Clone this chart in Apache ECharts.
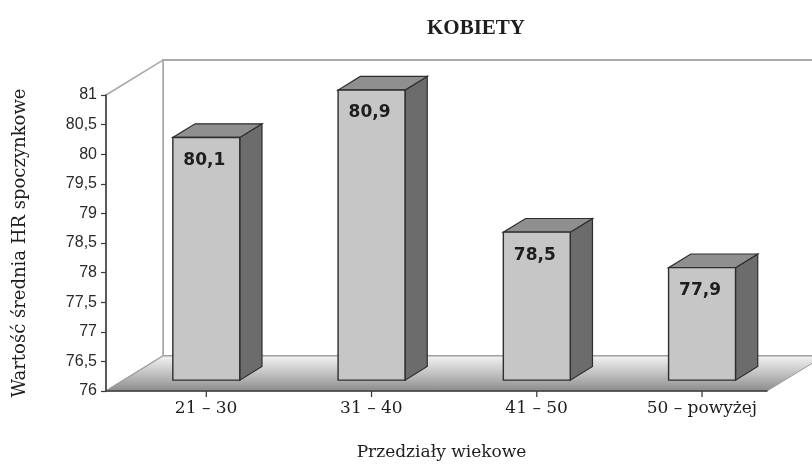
<!DOCTYPE html>
<html>
<head>
<meta charset="utf-8">
<script src="https://cdn.jsdelivr.net/npm/echarts@6/dist/echarts.min.js"></script>
<style>
  html, body { margin: 0; padding: 0; background: #ffffff; }
  #chart { width: 812px; height: 466px; }
</style>
</head>
<body>
<div id="chart"></div>
<script>
// Age groups and mean resting heart rate (women)
const categories = ['21 – 30', '31 – 40', '41 – 50', '50 – powyżej'];
const meanHR = [80.1, 80.9, 78.5, 77.9];

// Value axis range
const yMin = 76;
const yMax = 81;
const yStep = 0.5;

const chartTitle = 'KOBIETY';
const xAxisName = 'Przedziały wiekowe';
const yAxisName = 'Wartość średnia HR spoczynkowe';

// Pseudo-3D depth vector of the plot box and the slab the bars occupy
const DEPTH = [57, -35];
const BAR_FRONT = 0.31;
const BAR_BACK = 0.70;
const BAR_WIDTH = 0.405;

const fmt = v => String(v).replace('.', ',');

const chart = echarts.init(document.getElementById('chart'), null, { renderer: 'canvas' });

// Back wall, left wall and floor of the 3D box
function renderBox(params, api) {
  const cs = params.coordSys;
  const x0 = cs.x, y0 = cs.y, x1 = cs.x + cs.width, y1 = cs.y + cs.height;
  const dx = DEPTH[0], dy = DEPTH[1];
  const wallStroke = '#a9a9a9';
  return {
    type: 'group',
    children: [
      {
        type: 'polygon',
        shape: { points: [[x0 + dx, y0 + dy], [x1 + dx, y0 + dy], [x1 + dx, y1 + dy], [x0 + dx, y1 + dy]] },
        style: { fill: '#ffffff', stroke: wallStroke, lineWidth: 2 }
      },
      {
        type: 'polygon',
        shape: { points: [[x0, y0], [x0 + dx, y0 + dy], [x0 + dx, y1 + dy], [x0, y1]] },
        style: { fill: '#ffffff', stroke: wallStroke, lineWidth: 1.5 }
      },
      {
        type: 'polygon',
        shape: { points: [[x0, y1], [x1, y1], [x1 + dx, y1 + dy], [x0 + dx, y1 + dy]] },
        style: {
          fill: new echarts.graphic.LinearGradient(0, 1, 0, 0, [
            { offset: 0, color: '#8a8a8a' },
            { offset: 0.5, color: '#c2c2c2' },
            { offset: 1, color: '#f4f4f4' }
          ]),
          stroke: '#9a9a9a',
          lineWidth: 1
        }
      }
    ]
  };
}

// One box-shaped bar with its value label and the category tick under it
function renderBar(params, api) {
  const idx = api.value(0);
  const val = api.value(1);
  const top = api.coord([idx, val]);
  const base = api.coord([idx, yMin]);
  const band = api.size([1, 0])[0];
  const w = band * BAR_WIDTH;
  const fx = DEPTH[0] * BAR_FRONT, fy = DEPTH[1] * BAR_FRONT;
  const ddx = DEPTH[0] * (BAR_BACK - BAR_FRONT), ddy = DEPTH[1] * (BAR_BACK - BAR_FRONT);
  const cx = top[0] + fx;
  const l = cx - w / 2, r = cx + w / 2;
  const t = top[1] + fy, b = base[1] + fy;
  const edge = '#2e2e2e';
  return {
    type: 'group',
    children: [
      {
        type: 'polygon',
        shape: { points: [[r, t], [r + ddx, t + ddy], [r + ddx, b + ddy], [r, b]] },
        style: { fill: '#6c6c6c', stroke: edge, lineWidth: 1.2 }
      },
      {
        type: 'polygon',
        shape: { points: [[l, t], [r, t], [r + ddx, t + ddy], [l + ddx, t + ddy]] },
        style: { fill: '#8f8f8f', stroke: edge, lineWidth: 1.2 }
      },
      {
        type: 'rect',
        shape: { x: l, y: t, width: w, height: b - t },
        style: { fill: '#c6c6c6', stroke: edge, lineWidth: 1.4 }
      },
      {
        type: 'text',
        x: cx - 2,
        y: t + 23,
        style: {
          text: fmt(val),
          fill: '#1e1e1e',
          font: 'bold 17px "DejaVu Sans"',
          align: 'center',
          verticalAlign: 'middle'
        }
      },
      {
        type: 'line',
        shape: { x1: cx, y1: base[1], x2: cx, y2: base[1] + 6 },
        style: { stroke: '#333333', lineWidth: 1.2 }
      }
    ]
  };
}

const option = {
  backgroundColor: '#ffffff',
  animation: false,
  title: {
    text: chartTitle,
    left: 471,
    top: 13,
    textAlign: 'center',
    textStyle: { fontFamily: 'Liberation Serif', fontWeight: 'bold', fontSize: 21, color: '#1e1e1e' }
  },
  grid: { left: 106, right: 45, top: 95, bottom: 73, containLabel: false },
  xAxis: {
    type: 'category',
    data: categories,
    boundaryGap: true,
    z: 10,
    axisLine: { show: true, lineStyle: { color: '#3a3a3a', width: 1.5 } },
    axisTick: { show: false },
    axisLabel: {
      margin: 9,
      padding: [0, 0, 0, 35],
      fontFamily: 'DejaVu Serif',
      fontSize: 17,
      color: '#1e1e1e'
    },
    splitLine: { show: false },
    name: xAxisName,
    nameLocation: 'middle',
    nameGap: 53,
    nameTextStyle: { fontFamily: 'DejaVu Serif', fontSize: 17, color: '#1e1e1e', padding: [0, 0, 0, 10] }
  },
  yAxis: {
    type: 'value',
    min: yMin,
    max: yMax,
    interval: yStep,
    z: 10,
    axisLine: { show: true, lineStyle: { color: '#3a3a3a', width: 1.5 } },
    axisTick: { show: true, length: 5, lineStyle: { color: '#3a3a3a', width: 1.2 } },
    axisLabel: {
      margin: 9,
      formatter: v => fmt(v),
      fontFamily: 'Liberation Sans',
      fontSize: 16,
      color: '#2a2a2a'
    },
    splitLine: { show: false },
    name: yAxisName,
    nameLocation: 'middle',
    nameGap: 77,
    nameRotate: 90,
    nameTextStyle: { fontFamily: 'DejaVu Serif', fontSize: 18, color: '#1e1e1e' }
  },
  series: [
    {
      type: 'custom',
      name: 'box',
      z: 1,
      silent: true,
      renderItem: renderBox,
      data: [[0, yMin]]
    },
    {
      type: 'custom',
      name: 'HR',
      z: 3,
      renderItem: renderBar,
      encode: { x: 0, y: 1 },
      data: meanHR.map((v, i) => [i, v])
    }
  ]
};

chart.setOption(option);
</script>
</body>
</html>
